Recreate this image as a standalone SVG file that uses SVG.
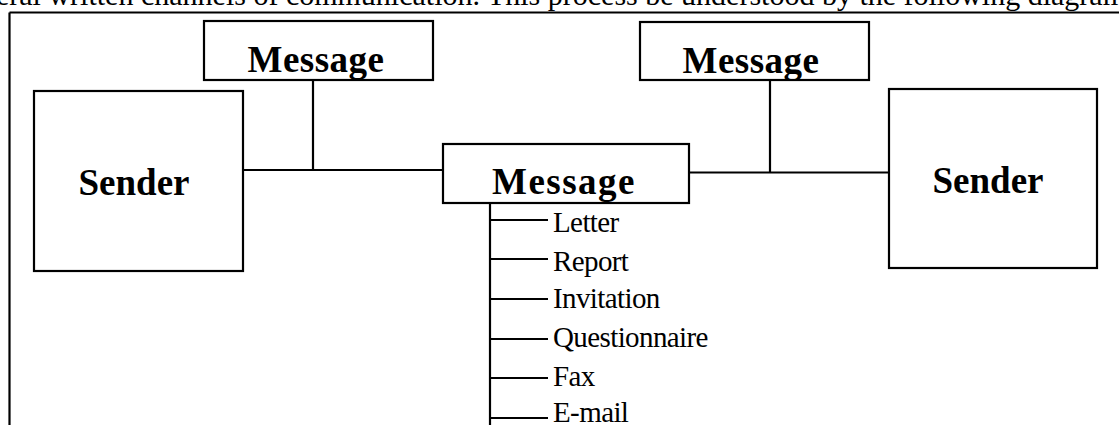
<svg xmlns="http://www.w3.org/2000/svg" width="1119" height="425" viewBox="0 0 1119 425">
<style>
.box{fill:#fff;stroke:#000;stroke-width:2.2}
.ln{stroke:#000;stroke-width:2.2;fill:none}
.title{font-family:"Liberation Serif","Times New Roman",serif;font-weight:bold;font-size:37px;text-anchor:middle;fill:#000}
.item{font-family:"Liberation Serif","Times New Roman",serif;font-size:29px;letter-spacing:-0.6px;fill:#000}
.head{font-family:"Liberation Serif","Times New Roman",serif;font-size:30px;fill:#000}
</style>
<rect width="1119" height="425" fill="#fff"/>
<text class="head" x="-4" y="5">eral written channels of communication. This process be understood by the following diagram</text>
<g id="frame">
<path class="ln" d="M9.5,12.5 H1119 M9.5,12.5 V425"/>
</g>
<g id="connectors">
<path class="ln" d="M243,170 H443 M313,80 V170"/>
<path class="ln" d="M689,172.5 H889 M770,80 V172.5"/>
<path class="ln" d="M490,203 V425"/>
<path class="ln" d="M490,220 H548 M490,259 H548 M490,299 H548 M490,339 H548 M490,378 H548 M490,418 H548"/>
</g>
<g id="sender-left">
<rect class="box" x="34" y="91" width="209" height="180"/>
<text class="title" x="134" y="195">Sender</text>
</g>
<g id="message-top-left">
<rect class="box" x="204" y="21" width="229" height="59"/>
<text class="title" x="316" y="72" letter-spacing="0.5">Message</text>
</g>
<g id="message-top-right">
<rect class="box" x="640" y="22" width="229" height="58"/>
<text class="title" x="751" y="73" letter-spacing="0.5">Message</text>
</g>
<g id="message-center">
<rect class="box" x="443" y="144" width="246" height="59"/>
<text class="title" x="564" y="194" letter-spacing="1.5">Message</text>
</g>
<g id="sender-right">
<rect class="box" x="889" y="89" width="208" height="179"/>
<text class="title" x="988" y="193">Sender</text>
</g>
<g id="channels">
<text class="item" x="553" y="232">Letter</text>
<text class="item" x="553" y="271">Report</text>
<text class="item" x="553" y="308">Invitation</text>
<text class="item" x="553" y="347">Questionnaire</text>
<text class="item" x="553" y="386">Fax</text>
<text class="item" x="553" y="422">E-mail</text>
</g>
</svg>
